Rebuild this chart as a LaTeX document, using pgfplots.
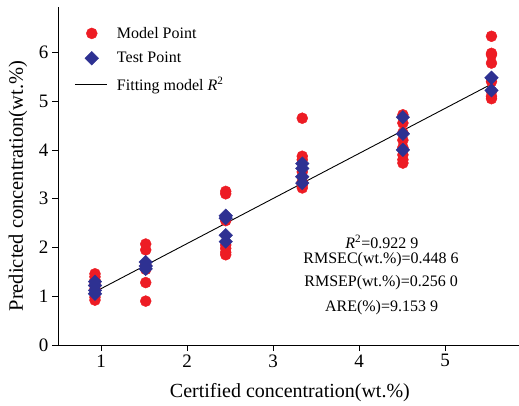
\documentclass[border=0pt]{standalone}
\usepackage{pgfplots}
\pgfplotsset{compat=1.18}
\usepackage{fontspec}
\setmainfont{Liberation Serif}
\definecolor{mred}{RGB}{237,28,36}
\definecolor{mblue}{RGB}{46,49,146}
\begin{document}
\begin{tikzpicture}
\path[use as bounding box] (-58pt,-60pt) rectangle (461pt,345pt);
\begin{axis}[
  at={(0pt,0pt)}, anchor=south west,
  scale only axis, width=461pt, height=338pt,
  xmin=0.5, xmax=5.86, ymin=0, ymax=6.93,
  axis lines=left, axis line style={-, line width=0.8pt},
  tick align=outside, major tick length=6pt,
  tick style={line width=0.8pt, black},
  xtick={1,2,3,4,5}, ytick={0,1,2,3,4,5,6},
  /pgf/number format/assume math mode=true,
  ticklabel style={font=\fontsize{19}{19}\selectfont},
  xlabel={Certified concentration(wt.\%)},
  ylabel={Predicted concentration(wt.\%)},
  every axis x label/.style={at={(axis description cs:0.503,-0.142)}, anchor=center, font=\fontsize{20}{20}\selectfont},
  every axis y label/.style={at={(axis description cs:-0.087,0.47)}, anchor=center, rotate=90, font=\fontsize{20.5}{20.5}\selectfont},
  legend style={draw=none, fill=none, at={(axis description cs:0.035,0.947)}, anchor=north west,
    font=\fontsize{16}{16}\selectfont, row sep=8.5pt, inner sep=0pt,
    nodes={inner sep=2pt}},
  legend cell align=left,
]
\addplot[only marks, mark=*, mark size=5.5pt, color=mred,
  legend image code/.code={\draw[mark=*, mark size=5.5pt, color=mred] plot coordinates {(17pt,0pt)};\path (0pt,0pt) (40pt,0pt);}]
  coordinates {
  (0.93,1.46) (0.93,1.40) (0.93,1.33) (0.93,1.25) (0.93,1.15) (0.93,1.05) (0.93,0.98) (0.93,0.92)
  (1.52,2.07) (1.52,1.95) (1.52,1.65) (1.52,1.55) (1.52,1.28) (1.52,0.90)
  (2.45,3.15) (2.45,3.10) (2.45,2.55) (2.45,2.05) (2.45,1.98) (2.45,1.90) (2.45,1.85)
  (3.34,4.65) (3.34,3.87) (3.34,3.80) (3.34,3.55) (3.34,3.35) (3.34,3.28) (3.34,3.22)
  (4.51,4.72) (4.51,4.55) (4.51,4.35) (4.51,4.20) (4.51,4.05) (4.51,3.90) (4.51,3.80) (4.51,3.73)
  (5.54,6.33) (5.54,5.98) (5.54,5.95) (5.54,5.78) (5.54,5.40) (5.54,5.20) (5.54,5.10) (5.54,5.05)
  };
\addlegendentry{Model Point}
\addplot[only marks, mark=square*, mark options={rotate=45}, mark size=4.8pt, color=mblue,
  legend image code/.code={\draw[mark=square*, mark options={rotate=45}, mark size=4.8pt, color=mblue] plot coordinates {(17pt,0pt)};\path (0pt,0pt) (40pt,0pt);}]
  coordinates {
  (0.93,1.30) (0.93,1.22) (0.93,1.12) (0.93,1.05)
  (1.52,1.70) (1.52,1.62) (1.52,1.56)
  (2.45,2.65) (2.45,2.60) (2.45,2.25) (2.45,2.12)
  (3.34,3.72) (3.34,3.62) (3.34,3.45) (3.34,3.32)
  (4.51,4.67) (4.51,4.33) (4.51,4.00)
  (5.54,5.48) (5.54,5.22)
  };
\addlegendentry{Test Point}
\addplot[black, line width=0.9pt, no marks,
  legend image code/.code={\draw[black, line width=0.9pt] (0pt,0pt) -- (32pt,0pt);\path (0pt,0pt) (38pt,0pt);}]
  coordinates {(0.93,1.09) (5.54,5.35)};
\addlegendentry{Fitting model \textit{R}\textsuperscript{2}}
\node[anchor=east, font=\fontsize{16}{16}\selectfont] at (axis cs:4.73,2.12) {\textit{R}\textsuperscript{2}=0.922 9};
\node[anchor=east, font=\fontsize{16}{16}\selectfont] at (axis cs:5.20,1.74) {RMSEC(wt.\%)=0.448 6};
\node[anchor=east, font=\fontsize{16}{16}\selectfont] at (axis cs:5.19,1.27) {RMSEP(wt.\%)=0.256 0};
\node[anchor=east, font=\fontsize{16}{16}\selectfont] at (axis cs:4.96,0.76) {ARE(\%)=9.153 9};
\end{axis}
\end{tikzpicture}
\end{document}
